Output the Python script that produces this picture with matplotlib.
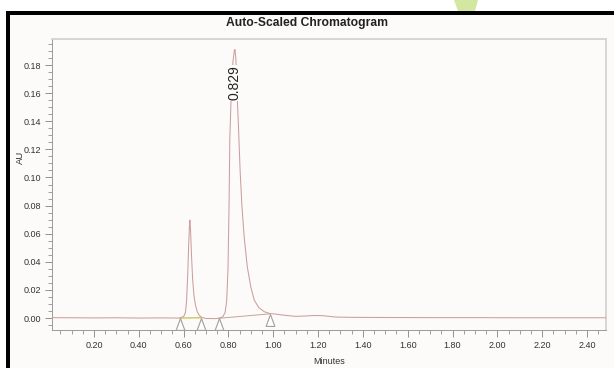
import numpy as np
import matplotlib
matplotlib.use("Agg")
import matplotlib.pyplot as plt
from matplotlib.ticker import MultipleLocator, FormatStrFormatter
from matplotlib.patches import Polygon, Rectangle

plt.rcParams['font.family'] = ['Liberation Sans', 'DejaVu Sans']

# Detector trace (minutes, AU)
trace_t = [0.0125, 0.10, 0.20, 0.30, 0.40, 0.50, 0.58,
           0.600, 0.608, 0.613, 0.618, 0.622, 0.626, 0.628, 0.631, 0.635,
           0.640, 0.646, 0.653, 0.662, 0.672, 0.685, 0.70, 0.74, 0.756,
           0.775, 0.785, 0.792, 0.798, 0.803, 0.806, 0.813, 0.820, 0.826,
           0.829, 0.833, 0.838, 0.845, 0.852, 0.860, 0.870, 0.884, 0.900,
           0.915, 0.935, 0.960, 0.985, 1.00, 1.05, 1.10, 1.15, 1.18, 1.22,
           1.25, 1.28, 1.35, 1.50, 1.70, 1.90, 2.10, 2.30, 2.485]
trace_au = [0.0003, 0.0002, 0.0001, 0.0002, 0.0000, 0.0001, 0.0000,
            0.0010, 0.0040, 0.0120, 0.0300, 0.0500, 0.0660, 0.0697, 0.0620, 0.0450,
            0.0280, 0.0160, 0.0090, 0.0040, 0.0015, 0.0002, -0.0003, -0.0004, -0.0002,
            0.0010, 0.0040, 0.0120, 0.0350, 0.0840, 0.1270, 0.1620, 0.1820, 0.1900,
            0.1910, 0.1850, 0.1620, 0.1350, 0.1050, 0.0800, 0.0580, 0.0365, 0.0220,
            0.0128, 0.0075, 0.0045, 0.0032, 0.0030, 0.0020, 0.0012, 0.0015, 0.0018, 0.0017,
            0.0012, 0.0007, 0.0005, 0.0004, 0.0003, 0.0003, 0.0002, 0.0002, 0.0002]

# Integration start/end marks
mark_t = [0.584, 0.678, 0.756, 0.985]
mark_au = [0.0000, 0.0000, -0.0002, 0.0030]

# Baselines drawn under each peak (start, end)
base1_t = [0.584, 0.678]
base1_au = [0.0000, 0.0002]
base2_t = [0.756, 0.985]
base2_au = [-0.0002, 0.0030]

peak_rt = 0.829
peak_label_au = 0.155

bg = '#fcfbf9'
fig = plt.figure(figsize=(6.14, 3.68), dpi=100, facecolor='white')

# frame around the page (top and left edges)
fig.patches.append(Rectangle((7 / 614, 0), 1, 1 - 13 / 368, transform=fig.transFigure,
                             facecolor=bg, edgecolor='none', zorder=-2))
fig.patches.append(Rectangle((7 / 614, 1 - 15 / 368), 1, 4 / 368, transform=fig.transFigure,
                             facecolor='black', edgecolor='none', zorder=-1))
fig.patches.append(Rectangle((6 / 614, 0), 4 / 614, 1 - 11 / 368, transform=fig.transFigure,
                             facecolor='black', edgecolor='none', zorder=-1))
# green blob at the top edge
fig.patches.append(Polygon([(454 / 614, 1), (478 / 614, 1), (475 / 614, 1 - 11 / 368),
                            (458 / 614, 1 - 11 / 368)], closed=True, transform=fig.transFigure,
                           facecolor='#d3e7a0', edgecolor='none', zorder=-1))

ax = fig.add_axes([52 / 614, 1 - 330 / 368, 554 / 614, 291 / 368])
ax.set_facecolor(bg)

ax.plot(trace_t, trace_au, color='#cc9e9e', lw=0.75, zorder=3)
ax.plot(base1_t, base1_au, color='#c8c050', lw=0.9, zorder=4)
ax.plot(base2_t, base2_au, color='#c4a49a', lw=0.7, zorder=2)

# triangles with apex on the trace
tri = [(0, 0.5), (-0.37, -0.5), (0.37, -0.5), (0, 0.5)]
mark_centre = [v - 0.0042 for v in mark_au]
ax.plot(mark_t, mark_centre, linestyle='none', marker=tri, markersize=8.5,
        markerfacecolor='white', markeredgecolor='#a0a0a0', markeredgewidth=0.8, zorder=5)

ax.text(peak_rt, peak_label_au, f'{peak_rt:.3f}', rotation=90, ha='center', va='bottom',
        fontsize=10, color='#222222', zorder=6,
        bbox=dict(facecolor=bg, edgecolor='none', pad=0.3))

ax.set_xlim(0.0125, 2.485)
ax.set_ylim(-0.0085, 0.1985)

ax.xaxis.set_major_locator(MultipleLocator(0.2))
ax.xaxis.set_minor_locator(MultipleLocator(0.05))
ax.yaxis.set_major_locator(MultipleLocator(0.02))
ax.yaxis.set_minor_locator(MultipleLocator(0.005))
ax.xaxis.set_major_formatter(FormatStrFormatter('%.2f'))
ax.yaxis.set_major_formatter(FormatStrFormatter('%.2f'))

ax.tick_params(which='major', direction='out', length=5, width=0.6, color='#808080',
               labelsize=6.5, labelcolor='#333333', pad=3)
ax.tick_params(which='minor', direction='out', length=3, width=0.6, color='#909090')

for side in ['left', 'bottom']:
    ax.spines[side].set_color('#9a9a9a')
    ax.spines[side].set_linewidth(0.7)
for side in ['top', 'right']:
    ax.spines[side].set_color('#cfcfcf')
    ax.spines[side].set_linewidth(1.2)

fig.text(307 / 614, 1 - 23 / 368, 'Auto-Scaled Chromatogram', ha='center', va='center',
         fontsize=8.7, fontweight='bold', color='#222222')
fig.text(20 / 614, 1 - 157 / 368, 'AU', rotation=90, ha='center', va='center',
         fontsize=6.8, color='#333333')
fig.text(329 / 614, 1 - 361 / 368, 'Minutes', ha='center', va='center',
         fontsize=6.5, color='#333333')

fig.savefig('out.png', dpi=100, facecolor='white')
